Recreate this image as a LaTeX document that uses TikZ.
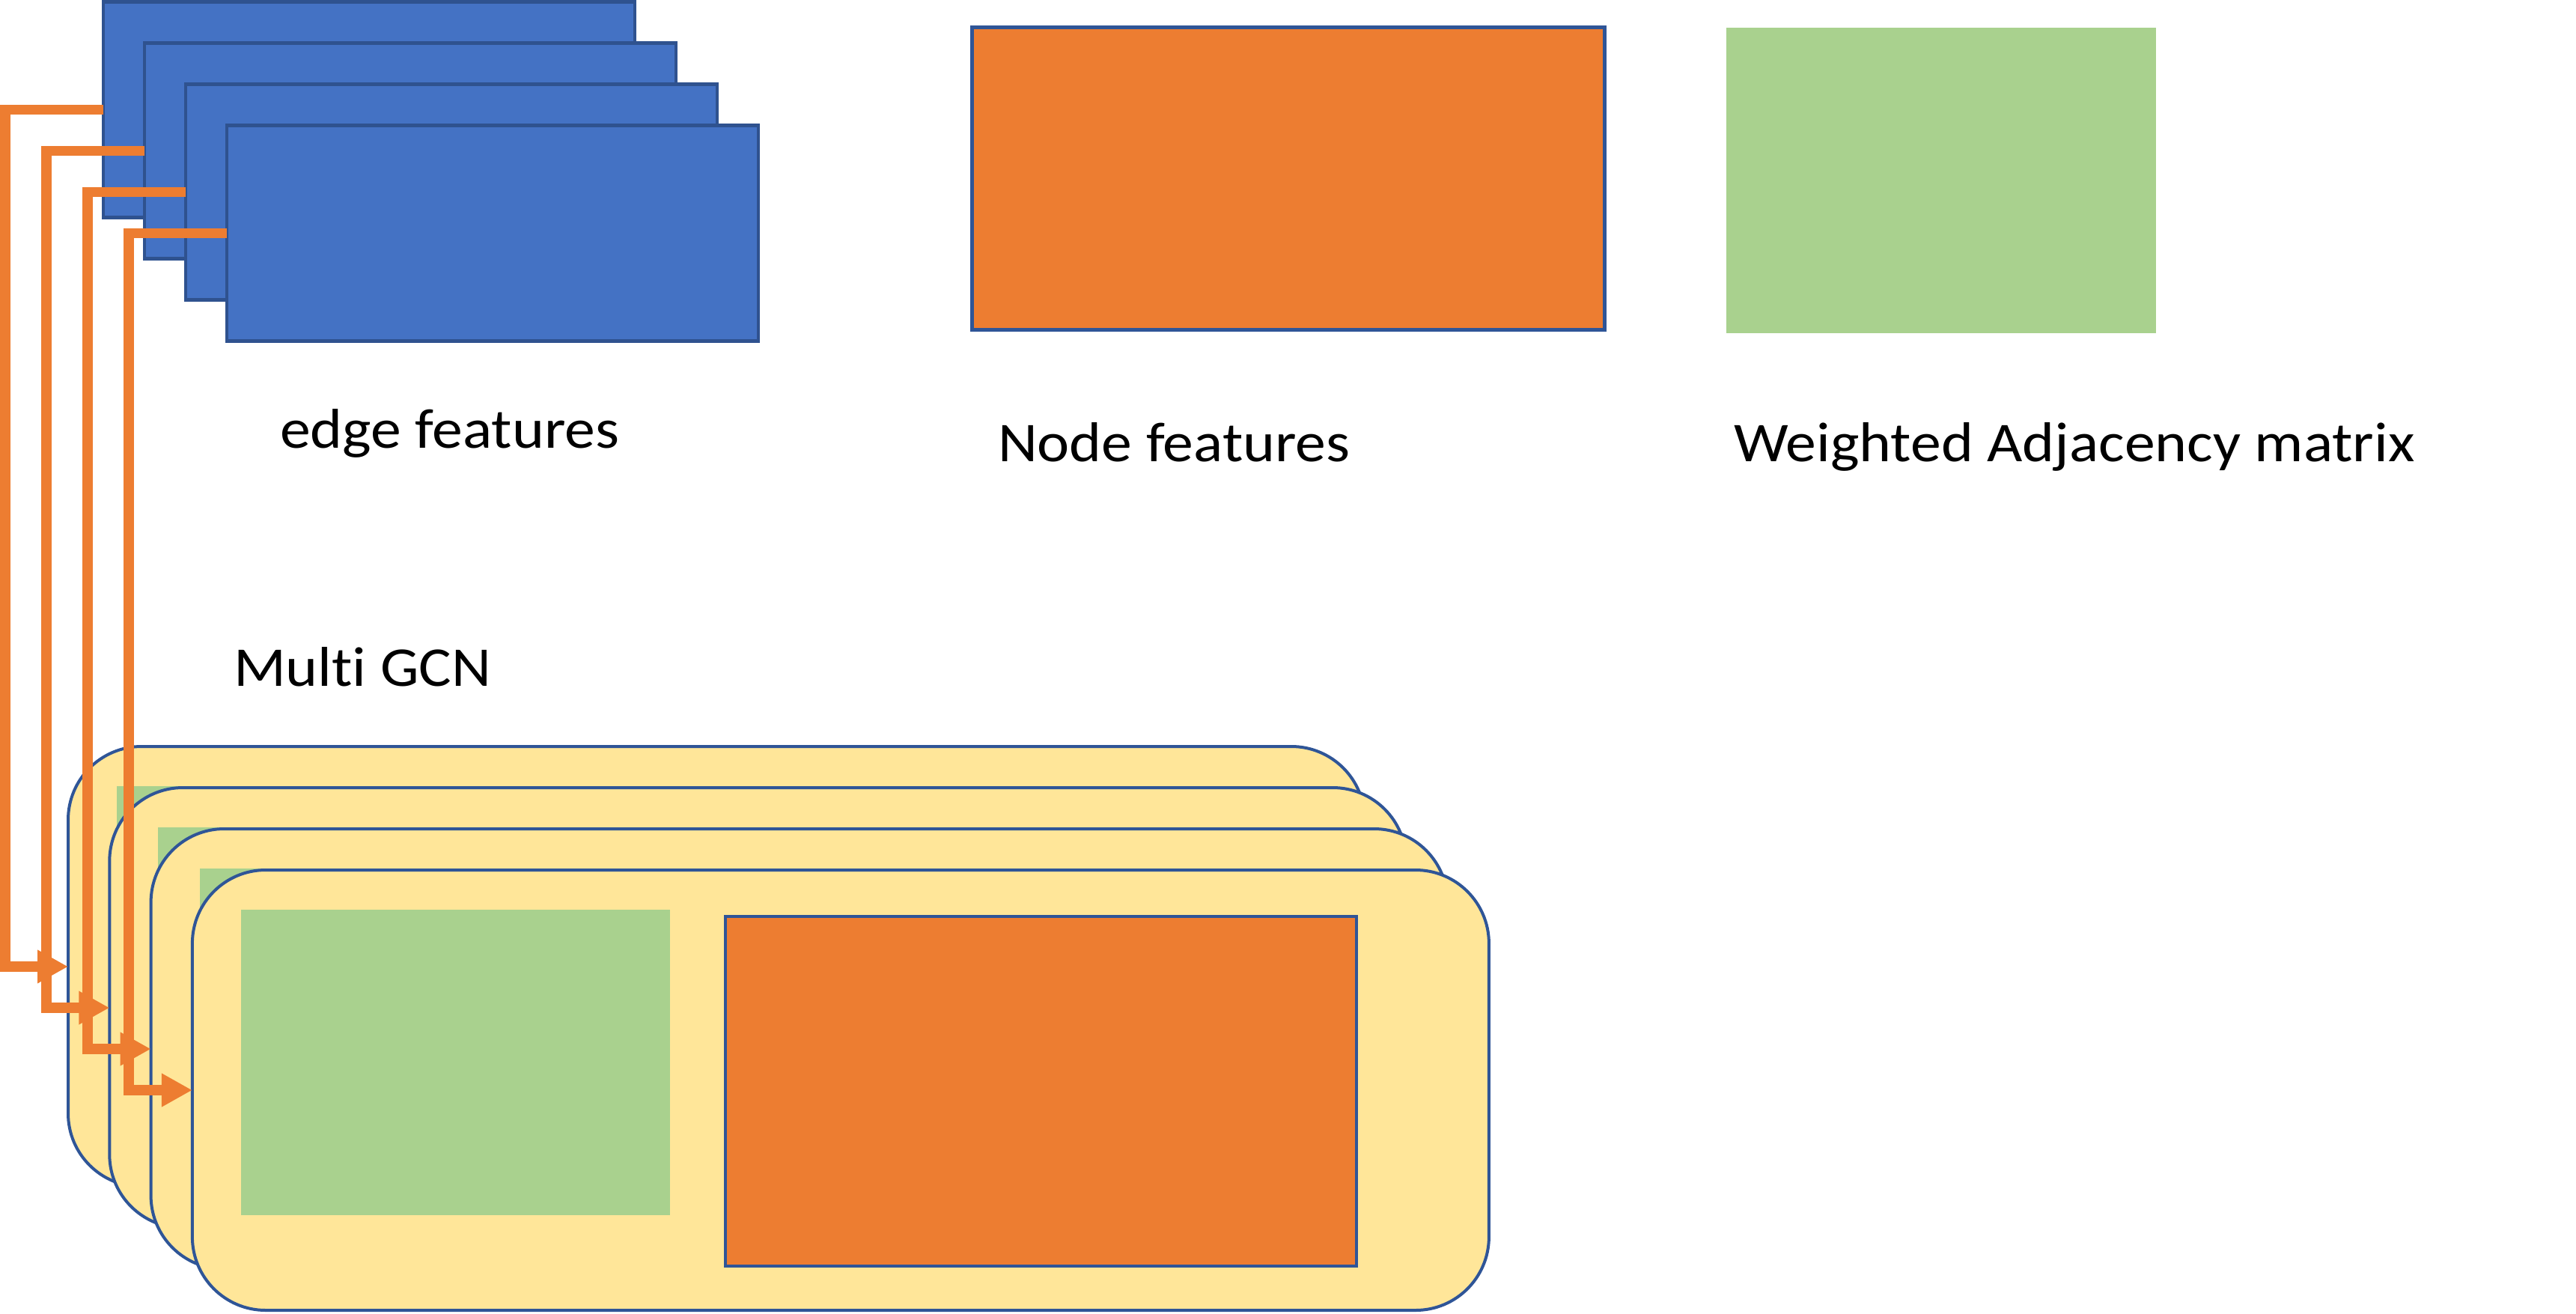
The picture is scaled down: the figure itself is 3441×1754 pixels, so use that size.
\documentclass[tikz,border=0pt]{standalone}
\usepackage{fontspec}
\setmainfont{Carlito}[FakeStretch=1.09, Ligatures=NoCommon]
\usetikzlibrary{arrows.meta}
\definecolor{eblue}{HTML}{4472C4}
\definecolor{eblueb}{HTML}{2F528F}
\definecolor{norange}{HTML}{ED7D31}
\definecolor{agreen}{HTML}{A9D18E}
\definecolor{gyellow}{HTML}{FFE699}
\definecolor{gborder}{HTML}{2F5597}
\begin{document}
\begin{tikzpicture}[x=1pt,y=-1pt,
  every node/.style={outer sep=0pt, inner sep=0pt},
  erect/.style={rectangle, fill=eblue, draw=eblueb, line width=4.5pt, minimum width=710pt, minimum height=288pt},
  nrect/.style={rectangle, fill=norange, draw=gborder, line width=5pt},
  arect/.style={rectangle, fill=agreen},
  gbox/.style={rectangle, rounded corners=98pt, fill=gyellow, draw=gborder, line width=4pt, minimum width=1732pt, minimum height=588pt},
  ginner/.style={rectangle, fill=agreen, minimum width=573pt, minimum height=408pt},
  oinner/.style={rectangle, fill=norange, draw=gborder, line width=4pt, minimum width=843pt, minimum height=467pt},
  lbl/.style={font=\fontsize{75}{90}\selectfont, text=black},
  conn/.style={draw=norange, line width=13.5pt, line join=miter, -{Triangle[length=41pt,width=42pt]}}
]
\useasboundingbox (0,0) rectangle (3441,1754);
% edge feature stack
\foreach \i in {0,...,3}{
  \node[erect, anchor=north west] (e\i) at ({138+55*\i},{2.5+55*\i}) {};
}
% node features and adjacency
\node[nrect, anchor=north west, minimum width=845pt, minimum height=403.5pt] (nf) at (1298,36.5) {};
\node[arect, anchor=north west, minimum width=574pt, minimum height=408pt] (wa) at (2306,37) {};
% labels
\node[lbl, anchor=base west] (le) at (374,598) {edge features};
\node[lbl, anchor=base west] (ln) at (1333,616) {Node features};
\node[lbl, anchor=base west] (lw) at (2316,616) {Weighted Adjacency matrix};
\node[lbl, anchor=base west] (lm) at (312,916) {Multi GCN};
% GCN stack
\foreach \i in {0,...,3}{
  \node[gbox, anchor=north west] (g\i) at ({91+55.3*\i},{997+55*\i}) {};
  \node[ginner, anchor=north west] (ga\i) at ({156+55.3*\i},{1050+55*\i}) {};
  \node[oinner, anchor=north west] (go\i) at ({803.5+55.3*\i},{1058.5+55*\i}) {};
}
% connectors
\foreach \i in {0,...,3}{
  \draw[conn] (e\i.west) -- ++(-131,0) |- (g\i.west);
}
\end{tikzpicture}
\end{document}
